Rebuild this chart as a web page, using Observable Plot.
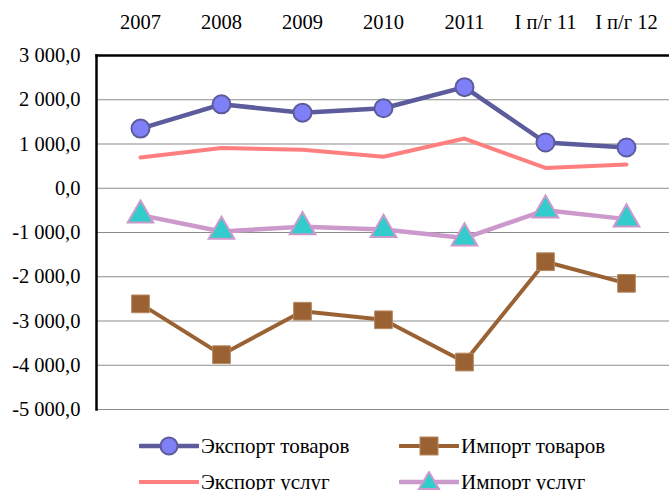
<!DOCTYPE html>
<html>
<head>
<meta charset="utf-8">
<script src="https://cdn.jsdelivr.net/npm/d3@7"></script>
<script src="https://cdn.jsdelivr.net/npm/@observablehq/plot@0.6"></script>
<style>
  html, body { margin: 0; padding: 0; background: #fff; overflow: hidden; }
  #wrap { width: 669px; height: 490px; position: relative; overflow: hidden; font-family: "Liberation Serif", "Times New Roman", serif; }
  #legend { position: absolute; left: 0; top: 0; width: 669px; height: 490px; pointer-events: none; }
  .item { position: absolute; display: flex; align-items: center; font-size: 21px; color: #000; white-space: nowrap; line-height: 22px; }
  .item svg { display: block; margin-right: 2px; }
</style>
</head>
<body>
<div id="wrap"><div id="chart"></div><div id="legend"></div></div>
<script>
const categories = ["2007", "2008", "2009", "2010", "2011", "I п/г 11", "I п/г 12"];
const exportGoods = [1348, 1897, 1708, 1807, 2285, 1034, 921];
const importGoods = [-2613, -3761, -2779, -2973, -3928, -1660, -2149];
const exportServices = [697, 908, 870, 712, 1124, 458, 539];
const importServices = [-608, -977, -872, -932, -1126, -495, -698];
const yTicks = [-5000, -4000, -3000, -2000, -1000, 0, 1000, 2000, 3000];
const seriesNames = ["Экспорт товаров", "Импорт товаров", "Экспорт услуг", "Импорт услуг"];

const colors = {
  egLine: "#5c5c9c", egFill: "#7f7ff7",
  ig: "#9a6232", igEdge: "#b58a62",
  es: "#ff7f7f",
  isLine: "#cc99cc", isFill: "#33cccc"
};

const toRows = vals => categories.map((c, i) => ({cat: c, v: vals[i]}));
const eg = toRows(exportGoods), ig = toRows(importGoods), es = toRows(exportServices), is = toRows(importServices);

const loc = d3.formatLocale({decimal: ",", thousands: "\u00a0", grouping: [3], currency: ["", ""], minus: "-"});
const fmt = loc.format(",.1f");

const chart = Plot.plot({
  width: 669,
  height: 420,
  marginLeft: 96,
  marginRight: 0,
  marginTop: 55,
  marginBottom: 11,
  style: {fontFamily: "Liberation Serif, Times New Roman, serif", fontSize: "20.5px", color: "#000", background: "#fff"},
  x: {type: "point", domain: categories, padding: 0.5, axis: null},
  y: {domain: [-5000, 3000], axis: null},
  marks: [
    Plot.gridY(yTicks, {stroke: "#8c8c8c", strokeOpacity: 1, strokeWidth: 1.2}),
    Plot.frame({anchor: "top", stroke: "#000", strokeWidth: 2.5}),
    Plot.frame({anchor: "left", stroke: "#000", strokeWidth: 2.5}),
    Plot.axisY(yTicks, {tickSize: 0, tickPadding: 16, tickFormat: fmt, fontSize: 20.5, fill: "#000", label: null}),
    Plot.axisX({anchor: "top", tickSize: 0, tickPadding: 27, fontSize: 20.5, fill: "#000", label: null}),
    Plot.line(es, {x: "cat", y: "v", stroke: colors.es, strokeWidth: 4}),
    Plot.line(is, {x: "cat", y: "v", stroke: colors.isLine, strokeWidth: 4.5}),
    Plot.dot(is, {x: "cat", y: "v", symbol: "triangle", r: 9.5, fill: colors.isFill, stroke: colors.isLine, strokeWidth: 2}),
    Plot.line(ig, {x: "cat", y: "v", stroke: colors.ig, strokeWidth: 4}),
    Plot.dot(ig, {x: "cat", y: "v", symbol: "square", r: 10, fill: colors.ig, stroke: colors.igEdge, strokeWidth: 1}),
    Plot.line(eg, {x: "cat", y: "v", stroke: colors.egLine, strokeWidth: 4.5}),
    Plot.dot(eg, {x: "cat", y: "v", r: 9, fill: colors.egFill, stroke: colors.egLine, strokeWidth: 2})
  ]
});
document.getElementById("chart").appendChild(chart);

// Legend
const sym = {
  0: `<svg width="60" height="22"><line x1="1" y1="11" x2="59" y2="11" stroke="${colors.egLine}" stroke-width="4.5" stroke-linecap="round"/><circle cx="30" cy="11" r="8.5" fill="${colors.egFill}" stroke="${colors.egLine}" stroke-width="2"/></svg>`,
  1: `<svg width="60" height="22"><line x1="1" y1="11" x2="59" y2="11" stroke="${colors.ig}" stroke-width="4" stroke-linecap="round"/><rect x="21" y="2" width="18" height="18" fill="${colors.ig}" stroke="${colors.igEdge}" stroke-width="1"/></svg>`,
  2: `<svg width="60" height="22"><line x1="1" y1="11" x2="59" y2="11" stroke="${colors.es}" stroke-width="4" stroke-linecap="round"/></svg>`,
  3: `<svg width="60" height="22"><line x1="1" y1="11" x2="59" y2="11" stroke="${colors.isLine}" stroke-width="4.5" stroke-linecap="round"/><path d="M30,1 L40,18 L20,18 Z" fill="${colors.isFill}" stroke="${colors.isLine}" stroke-width="2"/></svg>`
};
const pos = [[139, 435], [399, 435], [139, 471], [399, 471]];
const legend = document.getElementById("legend");
seriesNames.forEach((name, i) => {
  const div = document.createElement("div");
  div.className = "item";
  div.style.left = pos[i][0] + "px";
  div.style.top = pos[i][1] + "px";
  div.innerHTML = sym[i] + `<span>${name}</span>`;
  legend.appendChild(div);
});
</script>
</body>
</html>
